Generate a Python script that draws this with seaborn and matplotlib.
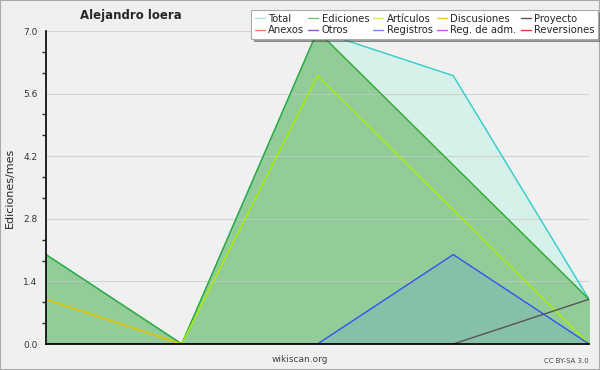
import matplotlib
matplotlib.use("Agg")
import matplotlib.pyplot as plt
import seaborn as sns
import pandas as pd
import numpy as np
from matplotlib.lines import Line2D
from matplotlib.ticker import MultipleLocator

sns.set_style("white")
plt.rcParams['font.family'] = ['DejaVu Sans']

months = [0, 1, 2, 3, 4]
total = [2, 0, 7, 6, 1]
ediciones = [2, 0, 7, 4, 1]
articulos = [1, 0, 6, 3, 0]
discusiones = [1, 0, 0, 0, 0]
registros = [0, 0, 0, 2, 0]
proyecto = [0, 0, 0, 0, 1]

legend_names = ["Total", "Ediciones", "Artículos", "Discusiones", "Proyecto",
                "Anexos", "Otros", "Registros", "Reg. de adm.", "Reversiones"]
legend_colors = ["#a8e4e0", "#77c077", "#c8ee66", "#f0c040", "#555555",
                 "#f08050", "#8855dd", "#7788ee", "#cc55ee", "#ee3333"]

bg = "#f0f0f0"
fig = plt.figure(figsize=(6, 3.7), dpi=100, facecolor=bg)
ax = fig.add_axes([46/600, 1-344/370, (589-46)/600, (344-31)/370])
ax.set_facecolor(bg)

# fills
ax.fill_between(months, total, color="#d6f0ea", zorder=1)
ax.fill_between(months, ediciones, color="#92cc98", zorder=2)
ax.fill_between(months, registros, color="#86c0a8", zorder=3)

rows = []
for name, vals in [("Total", total), ("Ediciones", ediciones), ("Artículos", articulos),
                   ("Discusiones", discusiones), ("Registros", registros), ("Proyecto", proyecto)]:
    for m, v in zip(months, vals):
        rows.append({"mes": m, "valor": v, "serie": name})
df = pd.DataFrame(rows)
palette = {"Total": "#33cccc", "Ediciones": "#33aa33", "Artículos": "#aaee00",
           "Discusiones": "#eebb00", "Registros": "#3355ee", "Proyecto": "#555555"}
sns.lineplot(data=df, x="mes", y="valor", hue="serie", palette=palette,
             linewidth=1.0, legend=False, ax=ax, zorder=5)

ax.set_xlim(0, 4)
ax.set_ylim(0, 7)
ax.set_xticks(months)
ax.set_xticklabels([])
ax.yaxis.set_major_locator(MultipleLocator(1.4))
ax.yaxis.set_minor_locator(MultipleLocator(1.4/3))
ax.set_yticklabels([f"{v:.1f}" for v in ax.get_yticks()])
ax.tick_params(axis="y", which="major", length=5, width=1, labelsize=6.5, labelcolor="#333333", pad=1)
ax.tick_params(axis="y", which="minor", length=3, width=1, left=True)
ax.tick_params(axis="x", length=5, width=1)
ax.yaxis.grid(True, color="#c8c8c8", linewidth=0.8, alpha=0.7, zorder=4)
ax.set_axisbelow(False)
for s in ["top", "right"]:
    ax.spines[s].set_visible(False)
for s in ["left", "bottom"]:
    ax.spines[s].set_color("black")
    ax.spines[s].set_linewidth(1.2)
    ax.spines[s].set_zorder(6)
ax.set_xlabel("")
ax.set_ylabel("Ediciones/mes", fontsize=8, labelpad=6)

fig.text(131/600, 1-16/370, "Alejandro loera", fontsize=8.5, fontweight="bold",
         ha="center", va="center")
fig.text(300/600, 1-360/370, "wikiscan.org", fontsize=6.5, color="#444444",
         ha="center", va="center")
fig.text(589/600, 1-361/370, "CC BY-SA 3.0", fontsize=5, color="#444444",
         ha="right", va="center")

# legend is filled column-first, so interleave the two rows
ncol = 5
order = [i + r * ncol for i in range(ncol) for r in range(2)]
handles = [Line2D([0], [0], color=legend_colors[k], lw=1) for k in order]
labels = [legend_names[k] for k in order]
leg = fig.legend(handles, labels, ncol=ncol, loc="upper right",
                 bbox_to_anchor=(598/600, 1-10/370), fontsize=7.2, frameon=True,
                 fancybox=False, shadow=True, handlelength=1.0, handletextpad=0.35,
                 columnspacing=0.4, labelspacing=0.15, borderpad=0.35, borderaxespad=0)
leg.get_frame().set_facecolor("white")
leg.get_frame().set_edgecolor("#aaaaaa")
leg.get_frame().set_linewidth(0.8)
leg.set_zorder(10)

fig.patches.append(plt.Rectangle((0, 0), 1, 1, transform=fig.transFigure,
                                 fill=False, edgecolor="#aaaaaa", linewidth=1.5))
fig.savefig("out.png", dpi=100, facecolor=bg)
